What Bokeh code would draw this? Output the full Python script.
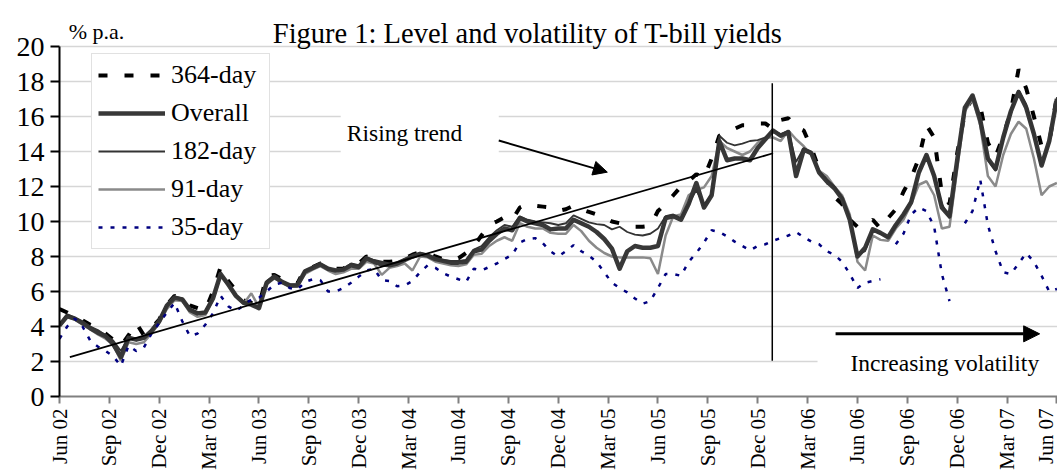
import math
from bokeh.plotting import figure
from bokeh.models import (ColumnDataSource, FixedTicker, Legend, LegendItem, Label,
                          Arrow, NormalHead, BoxAnnotation)
from bokeh.embed import file_html
from bokeh.resources import INLINE

nan = float("nan")

# week index (0 = first week of June 2002), fortnightly readings
weeks = list(range(0, 262, 2))

tick_weeks = list(range(0, 261, 13))
tick_labels = ["Jun 02", "Sep 02", "Dec 02", "Mar 03", "Jun 03", "Sep 03", "Dec 03",
               "Mar 04", "Jun 04", "Sep 04", "Dec 04", "Mar 05", "Jun 05", "Sep 05",
               "Dec 05", "Mar 06", "Jun 06", "Sep 06", "Dec 06", "Mar 07", "Jun 07"]
y_ticks = list(range(0, 21, 2))

day364 = [5.0, 4.8, 4.55, 4.35, 4.1, 3.9, 3.6, 3.25, 2.9, 3.5,
          4.2, 3.5, 3.9, 4.4, 5.25, 5.75, 5.6, 5.2, 5.05, 4.9,
          6.0, 7.4, 6.6, 6.05, 5.5, 5.35, 5.2, 6.9, 6.95, 6.7,
          6.5, 6.45, 7.3, 7.4, 7.6, 7.55, 7.3, 7.3, 7.6, 7.6,
          8.0, 7.85, 7.7, 7.7, 7.75, 7.9, 8.1, 8.25, 8.2, 8.0,
          7.85, 7.85, 7.9, 8.2, 8.6, 9.2, 9.8, 10.0, 10.25, 10.1,
          10.8, 11.0, 10.9, 10.85, 10.8, 10.6, 10.7, 10.9, 10.7, 10.55,
          10.4, 10.2, 10.0, 9.9, 9.85, 9.7, 9.7, 9.75, 10.6, 11.0,
          11.5, 12.0, 12.3, 12.7, 12.5, 13.6, 14.9, 15.1, 15.3, 15.5,
          15.5, 15.6, 15.6, 15.3, 15.8, 15.9, 15.4, 15.2, 14.2, 13.0,
          12.4, 11.4, 11.0, 10.1, 9.7, 9.8, 10.1, 9.6, 10.2, 10.7,
          11.7, 12.5, 13.6, 15.5, 14.8, 11.6, 11.0, 13.9, 16.2, 17.1,
          16.6, 14.5, 13.7, 14.9, 16.3, 18.7, 17.6, 16.0, 14.3, 14.5,
          17.2]

overall = [4.06, 4.6, 4.45, 4.2, 3.9, 3.65, 3.45, 3.0, 2.25, 3.35,
           3.25, 3.35, 3.75, 4.3, 5.2, 5.65, 5.55, 4.95, 4.75, 4.8,
           5.6, 7.0, 6.4, 5.75, 5.35, 5.25, 5.05, 6.5, 6.85, 6.55,
           6.35, 6.35, 7.15, 7.35, 7.55, 7.3, 7.2, 7.25, 7.5, 7.4,
           7.9, 7.7, 7.55, 7.5, 7.6, 7.8, 8.0, 8.15, 8.05, 7.85,
           7.75, 7.65, 7.65, 7.7, 8.3, 8.4, 8.9, 9.3, 9.6, 9.5,
           10.2, 10.0, 9.9, 9.8, 9.55, 9.6, 9.6, 10.1, 9.9, 9.7,
           9.4, 9.0, 8.45, 7.3, 8.3, 8.6, 8.5, 8.5, 8.6, 10.2,
           10.3, 10.1, 11.0, 12.2, 10.8, 11.5, 14.6, 13.5, 13.6, 13.6,
           13.5, 14.2, 14.7, 15.2, 14.9, 15.1, 12.6, 14.1, 13.9, 12.8,
           12.3, 11.9, 11.3, 10.1, 8.0, 8.5, 9.55, 9.35, 9.1, 9.8,
           10.4, 11.1, 12.8, 13.8, 12.6, 10.8, 10.3, 13.5, 16.5, 17.2,
           15.8, 13.6, 13.0, 14.8, 16.3, 17.4, 16.5, 15.0, 13.2, 14.6,
           17.0]

day182 = [4.1, 4.7, 4.5, 4.3, 4.0, 3.8, 3.5, 3.2, 2.6, 3.4,
          3.3, 3.4, 3.8, 4.4, 5.2, 5.7, 5.6, 5.0, 4.8, 4.85,
          5.7, 6.95, 6.4, 5.8, 5.4, 5.3, 5.1, 6.6, 6.9, 6.6,
          6.4, 6.4, 7.2, 7.4, 7.6, 7.35, 7.2, 7.3, 7.6, 7.5,
          7.95, 7.8, 7.7, 7.6, 7.65, 7.85, 8.05, 8.2, 8.1, 7.9,
          7.8, 7.75, 7.75, 7.8, 8.4, 8.6, 9.1, 9.5, 9.8, 9.7,
          10.3, 10.1, 10.0, 9.95, 9.9, 9.8, 9.9, 10.35, 10.15, 9.95,
          9.85, 9.8, 9.55, 9.7, 9.4, 9.25, 9.2, 9.3, 9.6, 10.3,
          10.4, 10.2, 11.0, 11.8, 10.9, 11.6, 14.9, 14.5, 14.35, 14.45,
          14.6, 14.65, 14.8, 15.2, 15.0, 15.2, 13.4, 14.2, 14.0, 12.9,
          12.4, 12.0, 11.4, 10.2, 8.1, 8.3, 9.5, 9.3, 9.1, 9.75,
          10.4, 11.2, 12.9, 13.8, 12.7, 11.0, 10.2, 13.2, 16.4, 17.2,
          15.9, 13.5, 12.9, 14.7, 16.4, 17.5, 16.7, 15.0, 13.2, 14.5,
          17.1]

day91 = [4.0, 4.55, 4.4, 4.1, 3.85, 3.55, 3.3, 2.95, 2.05, 3.1,
         3.0, 3.1, 3.6, 4.2, 5.0, 5.5, 5.45, 4.8, 4.55, 4.65,
         5.5, 6.9, 6.35, 5.7, 5.3, 5.9, 5.1, 6.4, 6.75, 6.5,
         6.25, 6.3, 7.0, 7.25, 7.45, 7.2, 7.0, 7.1, 7.3, 7.3,
         7.7, 7.6, 6.95, 7.35, 7.45, 7.6, 7.2, 8.0, 7.95, 7.7,
         7.6, 7.5, 7.45, 7.55, 8.1, 8.15, 8.6, 8.9, 9.1, 8.9,
         9.9, 9.7, 9.6, 9.6, 9.35, 9.3, 9.3, 9.8, 9.45, 8.9,
         8.5, 8.2, 8.0, 7.95, 7.95, 7.95, 7.95, 7.9, 7.0, 9.2,
         10.3, 10.4, 11.5, 11.8, 11.95, 12.6, 14.6, 14.2, 14.0, 13.8,
         14.0, 14.5, 14.8, 14.8, 14.6, 15.2, 14.7, 14.3, 13.8, 12.9,
         12.6, 12.0, 11.5, 10.4, 7.7, 7.2, 9.2, 8.95, 8.9, 9.6,
         10.1, 11.0, 12.1, 12.3, 11.5, 9.6, 9.7, 13.0, 16.3, 17.0,
         15.5, 12.6, 12.0, 13.8, 15.0, 15.7, 15.3, 13.6, 11.5, 12.0,
         12.2]

day35 = [3.3, 4.0, 4.45, 4.0, 3.2, 2.85, 2.6, 2.3, 1.75, 2.9,
         2.6, 2.8, 3.6, 4.2, 4.8, 5.35, 4.3, 3.45, 3.6, 4.1,
         4.75, 5.75, 5.15, 4.9, 5.2, 5.55, 5.65, 6.0, 6.4, 6.5,
         6.2, 6.1, 6.55, 6.7, 6.65, 6.0, 6.0, 6.2, 6.5, 6.85,
         7.2, 7.3, 6.65, 6.6, 6.3, 6.35, 6.6, 7.1, 7.5, 7.35,
         7.05, 6.85, 6.7, 6.55, 7.3, 7.2, 7.4, 7.6, 7.85, 8.1,
         8.8, 9.0, 9.05, 8.75, 8.3, 8.0, 8.3, 8.65, 8.3, 8.05,
         7.7, 7.1, 6.5, 6.2, 5.95, 5.6, 5.3, 5.45, 6.2, 7.0,
         7.0, 6.9, 7.7, 8.2, 8.8, 9.5, 9.4, 9.15, 8.85, 8.6,
         8.35, 8.6, 8.7, 8.9, 9.05, 9.2, 9.4, 9.1, 8.85, 8.7,
         8.3, 8.1, 7.7, 7.0, 6.2, 6.5, 6.6, 6.7, nan, 8.7,
         9.3, 10.4, 10.8, 10.6, 9.7, 7.0, 5.45, nan, 9.9, 10.6,
         12.4, 9.8, 8.3, 7.1, 7.0, 7.6, 8.2, 7.7, 6.9, 6.0,
         6.15]

# annotation geometry (data units: weeks, % p.a.)
trend_x = [2.7, 186.0]
trend_y = [2.25, 13.9]
divider_x = 185.8
divider_y = [2.05, 17.9]

FONT = "Liberation Serif"

src = ColumnDataSource(dict(w=weeks, d364=day364, ov=overall, d182=day182,
                            d91=day91, d35=day35))

p = figure(width=1057, height=472, output_backend="svg", toolbar_location=None,
           x_range=(0, 260.15), y_range=(0, 22),
           min_border_left=59, min_border_right=0, min_border_top=11,
           min_border_bottom=76, background_fill_color="white",
           border_fill_color="white")
p.outline_line_color = None

# axes
p.xaxis.ticker = FixedTicker(ticks=tick_weeks)
p.xaxis.major_label_overrides = {t: l for t, l in zip(tick_weeks, tick_labels)}
p.xaxis.major_label_orientation = math.pi / 2
p.xaxis.axis_line_color = "#808080"
p.xaxis.axis_line_width = 2
p.xaxis.major_tick_line_color = "#808080"
p.xaxis.major_tick_line_width = 2
p.xaxis.major_tick_out = 7
p.xaxis.major_tick_in = 0
p.xaxis.minor_tick_line_color = None
p.xaxis.major_label_standoff = 5
p.xaxis.major_label_text_font_size = "21px"

p.yaxis.ticker = FixedTicker(ticks=y_ticks)
p.yaxis.bounds = (0, 20)
p.yaxis.axis_line_color = "black"
p.yaxis.axis_line_width = 2
p.yaxis.major_tick_line_color = "black"
p.yaxis.major_tick_line_width = 2
p.yaxis.major_tick_out = 9
p.yaxis.major_tick_in = 0
p.yaxis.minor_tick_line_color = None
p.yaxis.major_label_standoff = 6
p.yaxis.major_label_text_font_size = "28px"

for ax in (p.xaxis, p.yaxis):
    ax.major_label_text_font = FONT
    ax.major_label_text_color = "black"

p.xgrid.visible = False
p.ygrid.ticker = FixedTicker(ticks=y_ticks)
p.ygrid.grid_line_color = "#d6d6d6"
p.ygrid.grid_line_width = 1.5

# white boxes behind the annotation texts
p.add_layout(BoxAnnotation(left=73.3, right=114.5, bottom=13.85, top=16.15,
                           fill_color="white", fill_alpha=1.0, line_alpha=0,
                           level="underlay"))
p.add_layout(BoxAnnotation(left=197.6, right=262, bottom=0.9, top=3.2,
                           fill_color="white", fill_alpha=1.0, line_alpha=0,
                           level="underlay"))

# series
r364 = p.line("w", "d364", source=src, line_color="black", line_width=4,
              line_dash="9 17")
r91 = p.line("w", "d91", source=src, line_color="#8a8a8a", line_width=2.5)
rov = p.line("w", "ov", source=src, line_color="#383838", line_width=4.5,
             line_join="round")
r182 = p.line("w", "d182", source=src, line_color="#333333", line_width=1.8)
r35 = p.line("w", "d35", source=src, line_color="#000080", line_width=2.5,
             line_dash="4 8")

# trend line and divider
p.line(trend_x, trend_y, line_color="black", line_width=1.8)
p.line([divider_x, divider_x], divider_y, line_color="black", line_width=1.5)

# arrows
p.add_layout(Arrow(end=NormalHead(size=14, fill_color="black", line_color="black"),
                   x_start=114.5, y_start=14.63, x_end=142.8, y_end=12.82,
                   line_width=2, line_color="black"))
p.add_layout(Arrow(end=NormalHead(size=16, fill_color="black", line_color="black"),
                   x_start=202.3, y_start=3.58, x_end=255.5, y_end=3.58,
                   line_width=3, line_color="black"))

# texts
p.add_layout(Label(x=55.6, y=20.74, text="Figure 1: Level and volatility of T-bill yields",
                   text_font=FONT, text_font_size="28.5px", text_color="black",
                   text_baseline="alphabetic"))
p.add_layout(Label(x=2.4, y=20.86, text="% p.a.", text_font=FONT,
                   text_font_size="22px", text_color="black",
                   text_baseline="alphabetic"))
p.add_layout(Label(x=74.9, y=15.03, text="Rising trend", text_font=FONT,
                   text_font_size="23.5px", text_color="black",
                   text_baseline="middle"))
p.add_layout(Label(x=206.2, y=1.89, text="Increasing volatility", text_font=FONT,
                   text_font_size="23.5px", text_color="black",
                   text_baseline="middle"))

legend = Legend(items=[LegendItem(label="364-day", renderers=[r364]),
                       LegendItem(label="Overall", renderers=[rov]),
                       LegendItem(label="182-day", renderers=[r182]),
                       LegendItem(label="91-day", renderers=[r91]),
                       LegendItem(label="35-day", renderers=[r35])],
                location=(32, 147))
legend.label_text_font = FONT
legend.label_text_font_size = "26px"
legend.label_text_color = "black"
legend.glyph_width = 67
legend.glyph_height = 30
legend.label_height = 30
legend.label_width = 92
legend.spacing = 8
legend.padding = 6
legend.label_standoff = 6
legend.margin = 0
legend.border_line_color = "#c4c4c4"
legend.border_line_width = 1.5
legend.background_fill_color = "white"
legend.background_fill_alpha = 1.0
p.add_layout(legend)

open("out.html", "w").write(file_html(p, INLINE))
